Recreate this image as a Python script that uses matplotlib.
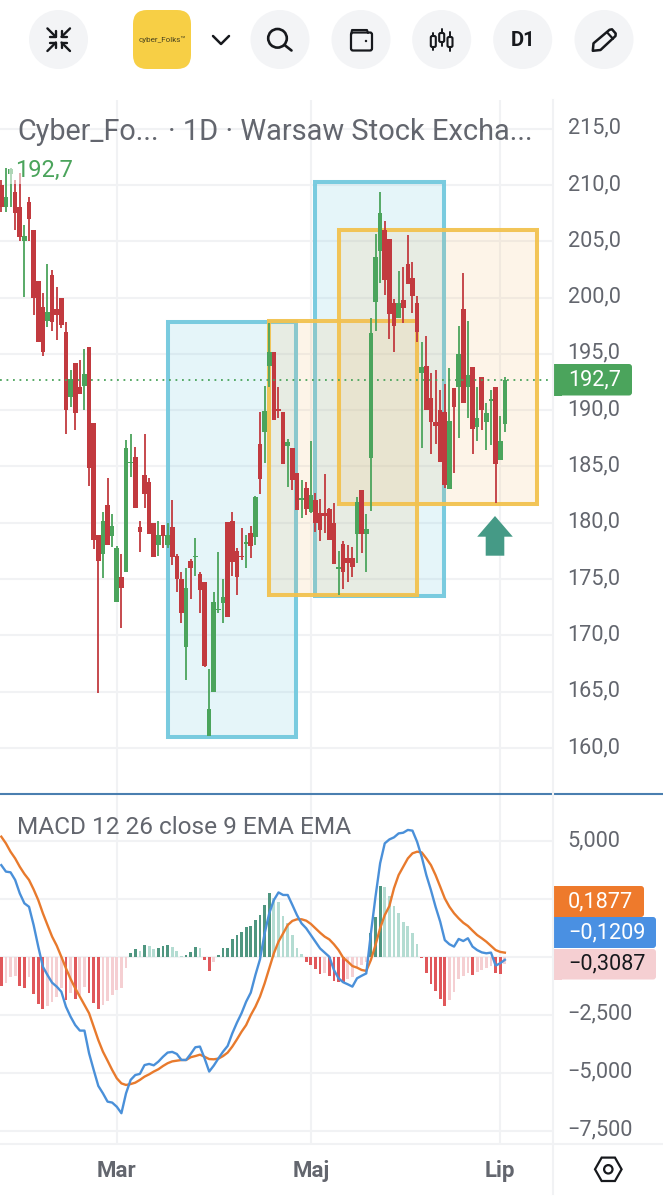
"""Cyber_Folks daily candles with MACD, drawn as a phone trading screen."""

import matplotlib

matplotlib.use("Agg")
import matplotlib.pyplot as plt
import numpy as np
from matplotlib.patches import Circle, FancyBboxPatch, Polygon, Rectangle
from matplotlib.transforms import ScaledTranslation

plt.rcParams["font.family"] = ["Roboto", "DejaVu Sans"]

# daily prices
opens = [
    210.0, 208.02, 210.98, 209.41, 208.02, 205.06, 208.52, 206.0, 201.5, 199.2,
    197.95, 202.0, 198.96, 200.0, 196.98, 191.2, 194.22, 192.03, 192.15, 195.59,
    188.84, 178.92, 177.23, 181.59, 178.83, 173.0, 175.22, 175.61, 185.29, 185.82,
    179.6, 184.25, 183.6, 180.02, 178.03, 179.81, 178.03, 179.6, 177.06, 175.01,
    169.0, 176.61, 177.0, 175.43, 174.78, 161.07, 165.01, 172.23, 172.85, 180.11,
    180.19, 177.53, 177.09, 178.09, 179.07, 178.77, 186.97, 188.09, 193.96, 195.2,
    190.08, 189.87, 186.82, 186.67, 184.39, 182.03, 183.06, 180.99, 182.03, 180.84,
    180.84, 181.2, 180.01, 175.93, 178.12, 176.85, 176.9, 179.0, 182.91, 179.0,
    185.73, 199.58, 204.17, 206.0, 205.17, 199.49, 198.16, 199.79, 202.98, 201.77,
    199.49, 193.27, 193.95, 191.05, 188.98, 190.02, 189.87, 183.0, 191.94, 192.03,
    198.96, 192.03, 193.87, 188.48, 192.98, 188.98, 190.85, 192.03, 185.58, 188.77,
]
highs = [
    210.45, 211.48, 211.48, 210.45, 211.04, 206.45, 208.97, 206.0, 201.5, 200.44,
    202.99, 202.45, 200.97, 200.0, 197.81, 193.57, 194.22, 194.46, 195.44, 195.59,
    188.84, 178.92, 180.99, 184.01, 180.79, 177.97, 177.2, 187.36, 187.86, 186.77,
    180.17, 187.86, 183.95, 180.02, 180.19, 179.81, 180.02, 182.03, 177.2, 175.61,
    176.02, 176.79, 178.63, 175.61, 174.78, 166.99, 173.83, 177.38, 175.01, 180.11,
    180.99, 177.74, 179.51, 178.92, 179.75, 182.41, 189.87, 192.18, 197.71, 195.2,
    192.03, 189.87, 187.41, 186.67, 184.39, 183.8, 183.65, 187.29, 182.62, 182.09,
    184.33, 181.29, 181.73, 177.5, 178.41, 178.03, 177.88, 182.32, 182.91, 180.78,
    198.16, 205.62, 209.35, 206.83, 205.17, 199.85, 202.36, 202.75, 205.56, 203.19,
    200.14, 196.09, 196.59, 193.27, 193.57, 191.79, 192.3, 193.72, 191.94, 197.48,
    202.15, 197.95, 193.87, 192.09, 192.98, 190.61, 191.79, 192.03, 189.49, 192.98,
]
lows = [
    207.57, 207.57, 208.08, 206.0, 205.06, 200.09, 205.06, 198.46, 196.09, 194.85,
    197.42, 197.03, 196.24, 197.27, 187.89, 190.26, 188.25, 191.41, 190.02, 183.27,
    177.68, 164.86, 175.07, 178.03, 177.89, 173.0, 170.63, 175.61, 184.1, 181.29,
    177.44, 181.29, 178.98, 177.0, 177.09, 177.74, 177.74, 176.26, 173.83, 171.08,
    166.05, 173.24, 175.31, 172.03, 167.23, 161.07, 165.01, 172.03, 171.08, 171.61,
    175.28, 173.59, 176.7, 176.02, 176.85, 178.03, 182.53, 185.34, 192.09, 189.13,
    189.28, 185.19, 183.2, 182.91, 181.14, 180.46, 180.69, 180.84, 179.21, 178.41,
    179.07, 178.47, 176.31, 173.59, 174.09, 174.77, 175.22, 176.4, 177.29, 175.66,
    181.08, 197.03, 201.27, 200.23, 196.32, 195.2, 198.16, 197.77, 201.18, 198.6,
    196.09, 186.67, 190.02, 186.11, 186.97, 185.43, 183.12, 183.0, 184.45, 187.5,
    190.61, 189.28, 186.08, 187.29, 188.24, 186.47, 186.91, 181.73, 185.58, 188.09,
]
closes = [
    208.08, 208.97, 211.4, 207.49, 205.41, 205.47, 206.98, 200.0, 196.09, 195.2,
    198.75, 197.86, 198.46, 197.57, 190.02, 192.77, 189.79, 191.41, 193.22, 184.84,
    178.48, 176.61, 180.19, 178.03, 179.75, 177.8, 174.19, 186.62, 185.43, 181.35,
    179.22, 182.56, 178.98, 177.0, 178.92, 178.83, 178.92, 177.0, 175.01, 172.03,
    174.19, 176.02, 177.09, 174.04, 167.32, 163.44, 173.0, 172.35, 173.39, 171.61,
    176.49, 175.22, 177.0, 178.33, 177.97, 182.33, 183.9, 189.96, 195.2, 189.13,
    189.96, 185.19, 187.21, 183.8, 181.14, 182.23, 181.23, 182.47, 179.95, 179.36,
    180.63, 178.47, 176.31, 176.05, 175.66, 176.46, 176.1, 181.88, 179.0, 179.42,
    196.89, 203.57, 207.54, 201.56, 198.54, 197.48, 199.49, 199.05, 201.18, 200.17,
    196.97, 193.81, 190.02, 188.98, 188.63, 185.43, 183.36, 189.07, 190.31, 194.96,
    190.61, 193.13, 188.3, 189.28, 190.02, 189.78, 190.97, 185.22, 187.27, 192.7,
]

# MACD(12, 26, 9)
macd_line = [
    3.97, 3.69, 3.66, 3.33, 2.75, 2.32, 2.17, 1.38, 0.45, -0.42,
    -0.78, -1.11, -1.28, -1.50, -2.15, -2.58, -2.94, -3.18, -3.18, -4.16,
    -4.88, -5.57, -5.89, -6.25, -6.29, -6.47, -6.75, -5.89, -5.31, -5.10,
    -5.05, -4.67, -4.62, -4.68, -4.52, -4.31, -4.13, -4.10, -4.19, -4.45,
    -4.45, -4.19, -3.90, -3.87, -4.38, -4.95, -4.69, -4.38, -4.09, -3.84,
    -3.30, -2.84, -2.43, -1.93, -1.54, -0.78, -0.10, 1.02, 1.89, 2.46,
    2.79, 2.68, 2.68, 2.25, 1.81, 1.45, 1.24, 0.95, 0.66, 0.37,
    0.19, 0.01, -0.56, -0.92, -1.09, -1.18, -1.28, -0.92, -0.81, -0.71,
    1.02, 2.61, 4.05, 4.91, 5.08, 5.17, 5.34, 5.37, 5.49, 5.46,
    4.98, 4.33, 3.54, 2.89, 2.17, 1.53, 0.73, 0.55, 0.45, 0.78,
    0.69, 0.81, 0.45, 0.30, 0.20, 0.16, 0.19, -0.37, -0.27, -0.1209,
]
signal_line = [
    5.20, 4.91, 4.55, 4.26, 3.90, 3.59, 3.33, 2.92, 2.46, 1.89,
    1.38, 0.88, 0.49, 0.01, -0.49, -0.95, -1.35, -1.71, -2.07, -2.43,
    -3.01, -3.59, -4.09, -4.48, -4.88, -5.24, -5.46, -5.53, -5.49, -5.43,
    -5.31, -5.17, -5.07, -4.95, -4.85, -4.71, -4.59, -4.51, -4.48, -4.45,
    -4.45, -4.33, -4.28, -4.22, -4.31, -4.41, -4.42, -4.39, -4.28, -4.13,
    -3.87, -3.56, -3.23, -2.94, -2.51, -2.15, -1.71, -1.14, -0.49, 0.16,
    0.66, 1.02, 1.38, 1.56, 1.63, 1.63, 1.57, 1.43, 1.24, 1.05,
    0.88, 0.76, 0.55, 0.30, -0.03, -0.20, -0.39, -0.46, -0.56, -0.60,
    -0.13, 0.52, 1.24, 1.81, 2.20, 2.97, 3.54, 3.90, 4.26, 4.48,
    4.55, 4.52, 4.26, 3.97, 3.54, 3.04, 2.53, 2.17, 1.89, 1.67,
    1.48, 1.34, 1.14, 0.95, 0.81, 0.66, 0.48, 0.30, 0.22, 0.1877,
]
histogram = [
    -1.25, -1.11, -0.85, -0.82, -1.25, -1.35, -0.85, -1.61, -2.03, -2.26,
    -2.10, -1.96, -1.71, -1.35, -1.86, -1.57, -1.83, -1.64, -1.28, -1.57,
    -2.00, -2.26, -2.07, -1.90, -1.64, -1.43, -1.35, -0.49, 0.19, 0.33,
    0.27, 0.53, 0.48, 0.35, 0.40, 0.48, 0.53, 0.43, 0.27, 0.04,
    0.07, 0.20, 0.43, 0.37, -0.13, -0.60, -0.20, 0.09, 0.37, 0.40,
    0.76, 0.94, 1.09, 1.30, 1.34, 1.60, 1.81, 2.25, 2.75, 2.53,
    2.36, 1.77, 1.45, 0.95, 0.40, 0.13, -0.23, -0.35, -0.53, -0.73,
    -0.71, -0.81, -1.02, -1.07, -1.09, -0.95, -0.85, -0.42, -0.35, -0.20,
    1.05, 1.74, 3.07, 3.04, 2.65, 2.20, 1.89, 1.53, 1.34, 1.02,
    0.56, -0.06, -0.71, -1.18, -1.47, -1.81, -2.12, -1.86, -1.50, -0.95,
    -0.82, -0.71, -0.78, -0.66, -0.56, -0.49, -0.37, -0.71, -0.73, -0.3087,
]

price_ticks = [160, 165, 170, 175, 180, 185, 190, 195, 200, 205, 210, 215]
macd_ticks = [-7.5, -5.0, -2.5, 0.0, 2.5, 5.0]
macd_tick_labels = ["\u22127,500", "\u22125,000", "\u22122,500", "", "", "5,000"]
month_pos = [25, 67, 108]
month_labels = ["Mar", "Maj", "Lip"]

# drawn zones: first bar, last bar, low price, high price
blue_zones = [(36.0, 63.8, 161.0, 197.85), (67.8, 95.8, 173.5, 210.3)]
yellow_zones = [(57.9, 89.9, 173.6, 197.95), (73.0, 115.9, 181.65, 206.0)]

UP = "#4ba45c"
DOWN = "#c23a3f"
GRID = "#f1f2f4"
TEXT = "#63666e"
INK = "#17191d"
CHIP = "#f3f4f6"

W, H = 663, 1200
PANE_W = 553


def pane(top, bottom):
    ax = fig.add_axes([0, 1 - bottom / H, PANE_W / W, (bottom - top) / H])
    ax.set_xlim(-0.28, 119.42)
    for spine in ax.spines.values():
        spine.set_visible(False)
    ax.yaxis.tick_right()
    ax.tick_params(axis="y", length=0, pad=10.5, labelsize=15.6, labelcolor=TEXT)
    ax.tick_params(axis="x", length=0, labelbottom=False)
    ax.set_xticks(month_pos)
    ax.grid(True, color=GRID, linewidth=1.5)
    ax.set_axisbelow(True)
    return ax


def raise_labels(ax):
    # axis labels sit a little above their grid lines
    shift = ScaledTranslation(0, 3 / 100, fig.dpi_scale_trans)
    for tick in ax.yaxis.get_major_ticks():
        tick.label2.set_transform(tick.label2.get_transform() + shift)


def comma(value, digits):
    return f"{value:.{digits}f}".replace(".", ",").replace("-", "\u2212")


def tag(ax, x0, x1, y0, y1, color, text, text_color):
    ax.add_patch(FancyBboxPatch((x0 + 3, y0 + 3), x1 - x0 - 6, y1 - y0 - 6,
                                boxstyle="round,pad=3,rounding_size=3", fc=color, ec="none"))
    ax.add_patch(Rectangle((x0, y0), 8, y1 - y0, fc=color, ec="none"))
    ax.text(x0 + 14, (y0 + y1) / 2, text, color=text_color, fontsize=15.6, va="center", ha="left")


fig = plt.figure(figsize=(W / 100, H / 100), dpi=100, facecolor="white")

# price pane
ax_price = pane(100, 793)
ax_price.set_ylim(156.0, 217.55)
ax_price.set_yticks(price_ticks, [comma(p, 1) for p in price_ticks])
raise_labels(ax_price)

for x0, x1, y0, y1 in blue_zones:
    ax_price.add_patch(Rectangle((x0, y0), x1 - x0, y1 - y0, fc=(0.45, 0.79, 0.87, 0.18),
                                 ec=(0.45, 0.79, 0.87, 0.95), lw=2.9, zorder=1))
for x0, x1, y0, y1 in yellow_zones:
    ax_price.add_patch(Rectangle((x0, y0), x1 - x0, y1 - y0, fc=(0.96, 0.72, 0.38, 0.14),
                                 ec=(0.95, 0.76, 0.31, 0.95), lw=2.9, zorder=1.5))

bars = np.arange(len(closes))
o, c = np.array(opens), np.array(closes)
candle_colors = np.where(c >= o, UP, DOWN)
ax_price.vlines(bars, lows, highs, colors=candle_colors, linewidth=1.3, zorder=3)
ax_price.bar(bars, np.abs(c - o), bottom=np.minimum(o, c), width=1.0, color=candle_colors, zorder=3)
ax_price.axhline(closes[-1], color=UP, linestyle=(0, (1, 2.6)), linewidth=1.3, zorder=4)

# MACD pane
ax_macd = pane(795, 1144)
ax_macd.set_ylim(-8.08, 7.0)
ax_macd.set_yticks(macd_ticks, macd_tick_labels)
raise_labels(ax_macd)

hist = np.array(histogram)
hist_colors = []
for i, value in enumerate(hist):
    growing = i == 0 or abs(value) > abs(hist[i - 1]) or value * hist[i - 1] < 0
    if value >= 0:
        hist_colors.append("#4f9680" if growing else "#b4dcd2")
    else:
        hist_colors.append("#e0575a" if growing else "#f5cfd2")
ax_macd.bar(bars, hist, width=0.6, color=hist_colors, zorder=2)
ax_macd.plot(bars, signal_line, color="#e87a2d", linewidth=1.7, zorder=3)
ax_macd.plot(bars, macd_line, color="#4a90d9", linewidth=1.7, zorder=4)

# screen furniture on a pixel-sized layer
ui = fig.add_axes([0, 0, 1, 1], facecolor="none")
ui.set_xlim(0, W)
ui.set_ylim(H, 0)
ui.axis("off")

ui.plot([0, W], [794, 794], color="#4a7fb0", lw=1.5)
ui.plot([0, W], [1144, 1144], color=GRID, lw=1.5)
ui.plot([PANE_W, PANE_W], [100, 1194], color=GRID, lw=1.5)

for px in [58.5, 280, 361, 441.7, 522.7, 604]:
    ui.add_patch(Circle((px, 39.5), 29.5, fc=CHIP, ec="none"))
ui.add_patch(FancyBboxPatch((147, 24), 30, 31, boxstyle="round,pad=14,rounding_size=14",
                            fc="#f7cf45", ec="none"))
ui.text(162, 39.5, "cyber_Folks\u2122", fontsize=5.9, color="#4a4420", ha="center", va="center")
ui.plot([213, 221, 229], [36, 44, 36], color=INK, lw=1.8, solid_capstyle="round")


def stroke(xs, ys, lw=1.9):
    ui.plot(xs, ys, color=INK, lw=lw, solid_capstyle="round", solid_joinstyle="round")


# collapse arrows
for sx, sy in [(-1, -1), (1, -1), (-1, 1), (1, 1)]:
    cx, cy = 58.7 + sx * 2.8, 39.7 + sy * 2.8
    stroke([cx, cx + sx * 8.5], [cy, cy + sy * 8.5], lw=1.7)
    stroke([cx + sx * 5.5, cx, cx], [cy, cy, cy + sy * 5.5], lw=1.7)

# search
ui.add_patch(Circle((277.5, 38.3), 9.3, fc="none", ec=INK, lw=1.9))
stroke([284.5, 291.5], [45, 50.5])

# wallet
ui.add_patch(FancyBboxPatch((352.5, 34), 18, 15, boxstyle="round,pad=1.5,rounding_size=2",
                            fc="none", ec=INK, lw=1.6))
stroke([351, 352, 367, 368], [35, 30, 30, 33], lw=1.5)
ui.add_patch(Circle((366, 41), 1.2, fc=INK, ec="none"))

# candle glyph
for px, wick_top, body_top, body_bot, wick_bot in [
    (433.3, 33, 36, 47, 50), (441.7, 28.5, 33, 42, 45.5), (450, 32, 37, 47, 51),
]:
    stroke([px, px], [wick_top, body_top], lw=1.4)
    stroke([px, px], [body_bot, wick_bot], lw=1.4)
    ui.add_patch(FancyBboxPatch((px - 1, body_top + 1.5), 2, body_bot - body_top - 3,
                                boxstyle="round,pad=1.5,rounding_size=1.5", fc="none", ec=INK, lw=1.5))

ui.text(523, 40.5, "D1", fontsize=14.5, color=INK, ha="center", va="center", fontweight="bold")

# pencil
ui.add_patch(Polygon([(592.8, 50.8), (593.5, 43.3), (609.5, 29.8), (612, 29.3), (615.7, 33.5),
                      (615.5, 36), (600.5, 50)], closed=True, fc="none", ec=INK, lw=1.8, joinstyle="round"))
stroke([607, 613], [32.3, 38.8], lw=1.6)

# settings hexagon
hex_x = 608.3 + 13.3 * np.array([1, 0.5, -0.5, -1, -0.5, 0.5])
hex_y = 1169.3 + 11.7 * np.array([0, 1, 1, 0, -1, -1])
ui.add_patch(Polygon(np.column_stack([hex_x, hex_y]), closed=True, fc="none", ec=INK, lw=1.6))
ui.add_patch(Circle((608.3, 1169.3), 4.2, fc="none", ec=INK, lw=1.6))

# titles and value labels
ui.text(17, 132.5, "Cyber_Fo...", fontsize=20.7, color=TEXT, ha="left", va="center")
ui.text(168.5, 132.5, "\u00b7 1D \u00b7 Warsaw Stock Excha...", fontsize=20.9, color=TEXT, ha="left", va="center")
ui.add_patch(Rectangle((9, 156), 66, 28, fc="white", alpha=0.55, ec="none"))
ui.text(15, 170, "192,7", fontsize=17, color=UP, ha="left", va="center")
ui.text(17, 827.5, "MACD 12 26 close 9 EMA EMA", fontsize=17.6, color=TEXT, ha="left", va="center")

tag(ui, 554, 632, 364, 395.5, UP, comma(closes[-1], 1), "white")
tag(ui, 554, 644, 886, 917, "#ee7a2c", comma(signal_line[-1], 4), "white")
tag(ui, 554, 656, 917, 948, "#4a90e2", comma(macd_line[-1], 4), "white")
tag(ui, 554, 656, 949, 979.5, "#f5cfd2", comma(histogram[-1], 4), "#17191d")

# trade marker
ui.add_patch(Polygon([(495, 516), (512.8, 536.7), (504.3, 536.7), (504.3, 555.7), (485.7, 555.7),
                      (485.7, 536.7), (477.2, 536.7)], closed=True, fc="#459a86", ec="none"))

for px, label in zip(month_pos, month_labels):
    ui.text(1.3 + 4.62 * px, 1171, label, fontsize=16, fontweight="bold", color=TEXT,
            ha="center", va="center")

fig.savefig("out.png", dpi=100)
plt.close(fig)
